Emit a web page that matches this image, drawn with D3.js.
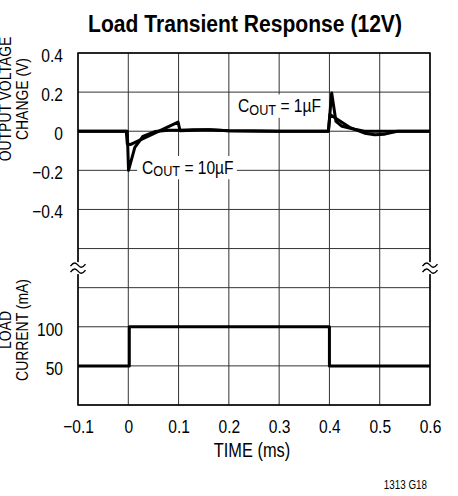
<!DOCTYPE html>
<html>
<head>
<meta charset="utf-8">
<script src="https://cdn.jsdelivr.net/npm/d3@7/dist/d3.min.js"></script>
<style>
  html, body { margin: 0; padding: 0; background: #fff; }
  svg { display: block; }
  text { font-family: "Liberation Sans", Arial, Helvetica, sans-serif; fill: #000; }
</style>
</head>
<body>
<script>
// ---------------- data ----------------
const xTicks = [-0.1, 0, 0.1, 0.2, 0.3, 0.4, 0.5, 0.6];
const xTickLabels = ["\u22120.1", "0", "0.1", "0.2", "0.3", "0.4", "0.5", "0.6"];
const voltTicks = [0.4, 0.2, 0, -0.2, -0.4];
const voltTickLabels = ["0.4", "0.2", "0", "\u22120.2", "\u22120.4"];
const currTicks = [100, 50];
const currTickLabels = ["100", "50"];
const gridRows = [0.4, 0.2, 0, -0.2, -0.4, -0.6, -0.8, -1.0, -1.2, -1.4];

// output voltage change (V), trace with the large spikes
const spikeTime  = [-0.1, -0.002, 0.0005, 0.013, 0.029, 0.053, 0.08, 0.1, 0.13, 0.16, 0.2, 0.3, 0.398, 0.4045, 0.413, 0.425, 0.45, 0.47, 0.6];
const spikeVolt  = [0, 0, -0.2, -0.083, -0.027, -0.002, 0.005, 0.005, 0.008, 0.008, 0.002, 0, 0, 0.196, 0.05, 0.025, 0.01, 0, 0];
// output voltage change (V), slower trace
const slowTime   = [-0.1, -0.004, -0.002, 0.004, 0.099, 0.103, 0.13, 0.16, 0.2, 0.3, 0.398, 0.401, 0.44, 0.47, 0.49, 0.51, 0.535, 0.6];
const slowVolt   = [0, 0, -0.065, -0.068, 0.047, 0.002, 0.005, 0.008, 0.002, 0, 0, 0.085, 0.02, -0.01, -0.018, -0.015, 0, 0];
// load current (mA)
const loadTime   = [-0.1, 0.002, 0.002, 0.4, 0.4, 0.6];
const loadCurr   = [50, 50, 100, 100, 50, 50];

const labelBig   = { main: "C", sub: "OUT", rest: " = 1\u00b5F" };
const labelSmall = { main: "C", sub: "OUT", rest: " = 10\u00b5F" };

// ---------------- chart ----------------
const W = 458, H = 496;
const SX = 0.82; // condensed look
const svg = d3.select("body").append("svg").attr("width", W).attr("height", H);

const x  = d3.scaleLinear().domain([-0.1, 0.6]).range([78, 430]);
const yV = d3.scaleLinear().domain([0.4, -1.4]).range([53, 405]);
const yI = d3.scaleLinear().domain([450, 0]).range([53, 405]);

function addText(tx, ty, str, size, anchor, sx) {
  return svg.append("text").attr("transform", `translate(${tx},${ty}) scale(${sx || SX},1)`)
    .attr("text-anchor", anchor || "start").attr("font-size", size).text(str);
}

// title, fitted to the reference width
const title = addText(245, 31.5, "Load Transient Response (12V)", 24, "middle", 1).attr("font-weight", "bold");
const tLen = title.node().getComputedTextLength();
title.attr("transform", `translate(245,31.5) scale(${314 / tLen},1)`);

// grid
const g = svg.append("g");
g.selectAll("line.v").data(xTicks).join("line")
  .attr("x1", d => x(d)).attr("x2", d => x(d)).attr("y1", yV(0.4)).attr("y2", yV(-1.4))
  .attr("stroke", "#333").attr("stroke-width", 1);
g.selectAll("line.h").data(gridRows).join("line")
  .attr("x1", x(-0.1)).attr("x2", x(0.6)).attr("y1", d => yV(d)).attr("y2", d => yV(d))
  .attr("stroke", "#333").attr("stroke-width", 1);
// frame
svg.append("rect").attr("x", x(-0.1)).attr("y", yV(0.4))
  .attr("width", x(0.6) - x(-0.1)).attr("height", yV(-1.4) - yV(0.4))
  .attr("fill", "none").attr("stroke", "#000").attr("stroke-width", 1.5);

// axis break symbols
function breakMark(cx, cy) {
  svg.append("rect").attr("x", cx - 3).attr("y", cy - 6).attr("width", 6).attr("height", 12).attr("fill", "#fff");
  [-3, 3].forEach(off => {
    const p = d3.path();
    const w = 7.5;
    p.moveTo(cx - w, cy + off + 1);
    p.bezierCurveTo(cx - w / 2, cy + off - 4, cx - w / 4, cy + off - 2, cx, cy + off);
    p.bezierCurveTo(cx + w / 4, cy + off + 2, cx + w / 2, cy + off + 4, cx + w, cy + off - 1);
    svg.append("path").attr("d", p.toString()).attr("fill", "none").attr("stroke", "#000").attr("stroke-width", 1.4);
  });
}
const breakY = (yV(-0.6) + yV(-0.8)) / 2;
breakMark(x(-0.1), breakY);
breakMark(x(0.6), breakY);

// curve labels with white boxes
function curveLabel(lbl, tx, ty) {
  const grp = svg.append("g").attr("transform", `translate(${tx},${ty}) scale(${SX},1)`);
  const t = grp.append("text").attr("font-size", 19);
  t.append("tspan").text(lbl.main);
  t.append("tspan").attr("font-size", 15.5).attr("dy", 2.5).text(lbl.sub);
  t.append("tspan").attr("dy", -2.5).text(lbl.rest);
  const bb = t.node().getBBox();
  grp.insert("rect", "text")
    .attr("x", bb.x - 6).attr("y", bb.y).attr("width", bb.width + 10).attr("height", bb.height)
    .attr("fill", "#fff");
}
curveLabel(labelBig, 238, 112);
curveLabel(labelSmall, 142, 173.5);

// axes tick labels
const axX = svg.append("g").attr("transform", `translate(0,${yV(-1.4)})`)
  .call(d3.axisBottom(x).tickValues(xTicks).tickFormat((d, i) => xTickLabels[i]).tickSize(0).tickPadding(0));
const axV = svg.append("g").attr("transform", `translate(63,0)`)
  .call(d3.axisLeft(yV).tickValues(voltTicks).tickFormat((d, i) => voltTickLabels[i]).tickSize(0).tickPadding(0));
const axI = svg.append("g").attr("transform", `translate(63,0)`)
  .call(d3.axisLeft(yI).tickValues(currTicks).tickFormat((d, i) => currTickLabels[i]).tickSize(0).tickPadding(0));
[axX, axV, axI].forEach(a => {
  a.select(".domain").remove();
  a.attr("font-family", null).attr("font-size", null);
  a.selectAll("text").attr("font-size", 19).attr("fill", "#000")
   .attr("x", 0).attr("dy", null).attr("transform", `scale(${SX},1)`);
});
axV.selectAll("text").attr("y", 8.5);
axI.selectAll("text").attr("y", 8.5);
axX.selectAll("text").attr("y", 28);

// axis titles
addText(252, 457, "TIME (ms)", 20, "middle");
addText(427, 489, "1313 G18", 12, "end");

function yTitle(lines, cy) {
  const t = svg.append("text").attr("transform", `translate(28,${cy}) rotate(-90) scale(${SX},1)`)
    .attr("text-anchor", "middle").attr("font-size", 17);
  lines.forEach((s, i) => t.append("tspan").attr("x", 0).attr("y", (i - lines.length + 1) * 17).text(s));
}
yTitle(["OUTPUT VOLTAGE", "CHANGE (V)"], 99);
yTitle(["LOAD", "CURRENT (mA)"], 330);

// curves
const lineV = d3.line().x(d => x(d[0])).y(d => yV(d[1]));
const lineI = d3.line().x(d => x(d[0])).y(d => yI(d[1]));
const curveStyle = p => p.attr("fill", "none").attr("stroke", "#000").attr("stroke-width", 3)
  .attr("stroke-linejoin", "round").attr("stroke-linecap", "butt");
svg.append("path").attr("d", lineV(d3.zip(slowTime, slowVolt))).call(curveStyle);
svg.append("path").attr("d", lineV(d3.zip(spikeTime, spikeVolt))).call(curveStyle);
svg.append("path").attr("d", lineI(d3.zip(loadTime, loadCurr))).call(curveStyle);
</script>
</body>
</html>
